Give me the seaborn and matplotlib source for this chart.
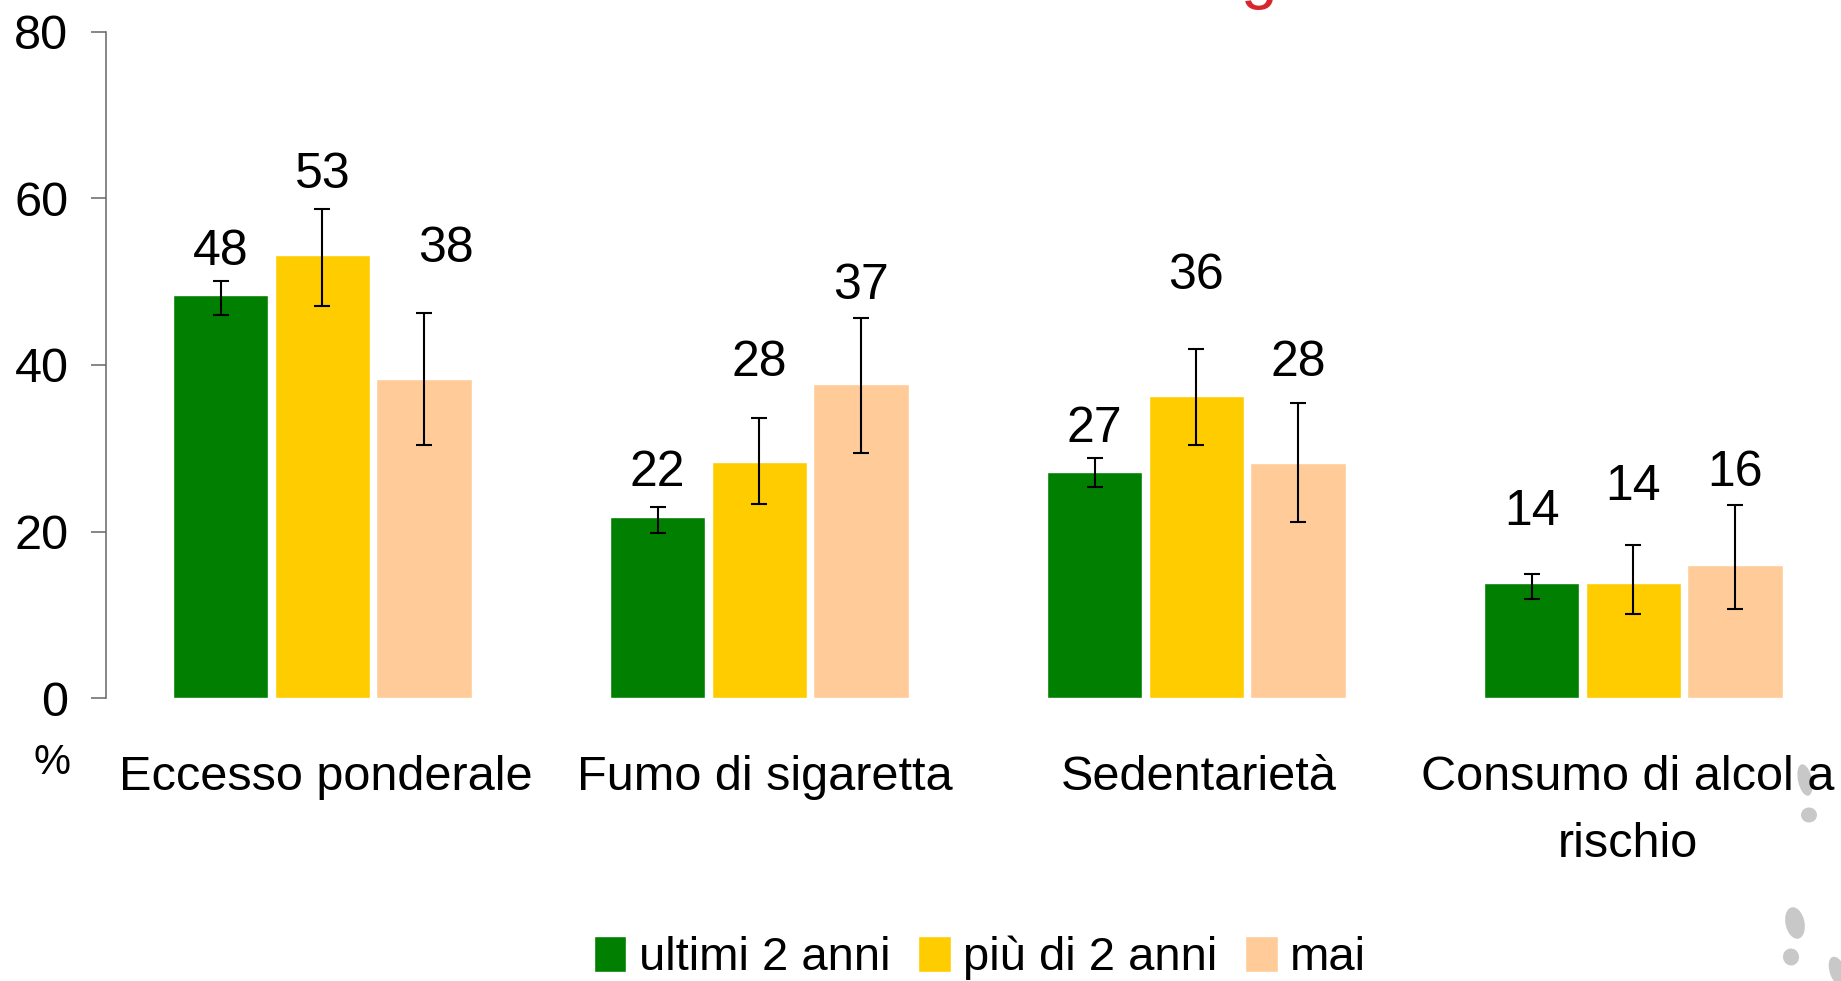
#! /bin/env python3

'''
Health risk factors by time since last check, bars with confidence intervals
'''

import pandas as pd
import matplotlib.pyplot as plt
from matplotlib.patches import Ellipse
from matplotlib.transforms import IdentityTransform

import seaborn as sns

categories = ['Eccesso ponderale', 'Fumo di sigaretta', 'Sedentarietà',
              'Consumo di alcol a\nrischio']
periods = ['ultimi 2 anni', 'più di 2 anni', 'mai']
colors = ['#007F00', '#FFCC00', '#FFCC99']

recent = [48.4, 21.8, 27.2, 13.8]
older = [53.2, 28.4, 36.3, 13.8]
never = [38.3, 37.7, 28.2, 16.0]

recent_low = [46.0, 19.8, 25.3, 11.9]
older_low = [47.1, 23.3, 30.4, 10.1]
never_low = [30.4, 29.4, 21.2, 10.7]

recent_high = [50.1, 23.0, 28.8, 14.9]
older_high = [58.7, 33.6, 41.9, 18.4]
never_high = [46.3, 45.7, 35.4, 23.2]

recent_labels = ['48', '22', '27', '14']
older_labels = ['53', '28', '36', '14']
never_labels = ['38', '37', '28', '16']

# heights where the value labels sit, in % units
recent_label_y = [53.6, 27.0, 32.3, 22.3]
older_label_y = [62.8, 40.2, 50.7, 25.3]
never_label_y = [53.9, 49.5, 40.2, 27.0]

# category labels are not quite centred under their groups
category_dx = [0.009, 0.012, 0.005, -0.013]

W, H = 1841, 981

sns.set_theme(style='white')
plt.rcParams['font.family'] = ['Liberation Sans', 'DejaVu Sans']

df = pd.DataFrame({
    'category': categories * 3,
    'period': [p for p in periods for _ in categories],
    'value': recent + older + never,
})

fig = plt.figure(figsize=(W / 100, H / 100), dpi=100)
axes = fig.add_axes([106 / W, 1 - 698 / H, (W - 106) / W, (698 - 32) / H])

# reference crops the axes at the right edge of the picture
sns.barplot(data=df, x='category', y='value', hue='period', hue_order=periods,
            palette=colors, saturation=1, width=0.6975, gap=0.06, ax=axes)

axes.set_xticks([i + dx for i, dx in enumerate(category_dx)], categories,
                linespacing=1.62)
axes.set_xlim(-0.495, (W - 106) / 437 - 0.495)
axes.set_ylim(0, 80)
axes.set_yticks([0, 20, 40, 60, 80])
axes.set_xlabel('')
axes.set_ylabel('')
axes.tick_params(axis='y', left=True, length=11, width=1.1, color='#666666',
                 labelsize=35, pad=16, labelcolor='black')
axes.tick_params(axis='x', bottom=False, labelsize=35, pad=35,
                 labelcolor='black')
axes.spines['left'].set_color('#666666')
axes.spines['left'].set_linewidth(1.1)
sns.despine(ax=axes, bottom=True)

lows = [recent_low, older_low, never_low]
highs = [recent_high, older_high, never_high]
labels = [recent_labels, older_labels, never_labels]
label_ys = [recent_label_y, older_label_y, never_label_y]

for c, container in enumerate(list(axes.containers)):
    for i, bar in enumerate(container):
        x = bar.get_x() + bar.get_width() / 2
        y = bar.get_height()
        axes.errorbar(x, y, yerr=[[y - lows[c][i]], [highs[c][i] - y]],
                      color='black', elinewidth=1.5, capsize=5.8,
                      capthick=1.5)
        # the first '38' stands off to the right of its bar
        dx = 0.05 if (c, i) == (2, 0) else 0
        axes.text(x + dx, label_ys[c][i], labels[c][i], ha='center',
                  va='center', fontsize=36, color='black')

sns.move_legend(axes, 'center', bbox_to_anchor=(980 / W, 1 - 958 / H),
                bbox_transform=fig.transFigure, ncol=3, frameon=False,
                title=None, fontsize=34, handlelength=0.69, handleheight=0.8,
                handletextpad=0.27, columnspacing=0.58, borderpad=0,
                labelcolor='black')

fig.text(52 / W, 1 - 763 / H, '%', ha='center', va='center', fontsize=30,
         color='black')

# bottom of the cropped red heading
fig.text(1259 / W, 1 + 4 / H, 'g', ha='center', va='baseline', fontsize=47.5,
         color='#D9262E')

# grey footprints of the slide background
for x, y, w, h, angle in [(1805, 780, 14, 32, 12), (1809, 815, 16, 15, 0),
                          (1795, 923, 19, 32, 12), (1791, 957, 16, 17, 10),
                          (1838, 972, 16, 32, 20)]:
    fig.add_artist(Ellipse((x, H - y), w, h, angle=angle, color='#C8C8C8',
                           lw=0, transform=IdentityTransform(), zorder=-1))

fig.savefig('out.png', dpi=100)
